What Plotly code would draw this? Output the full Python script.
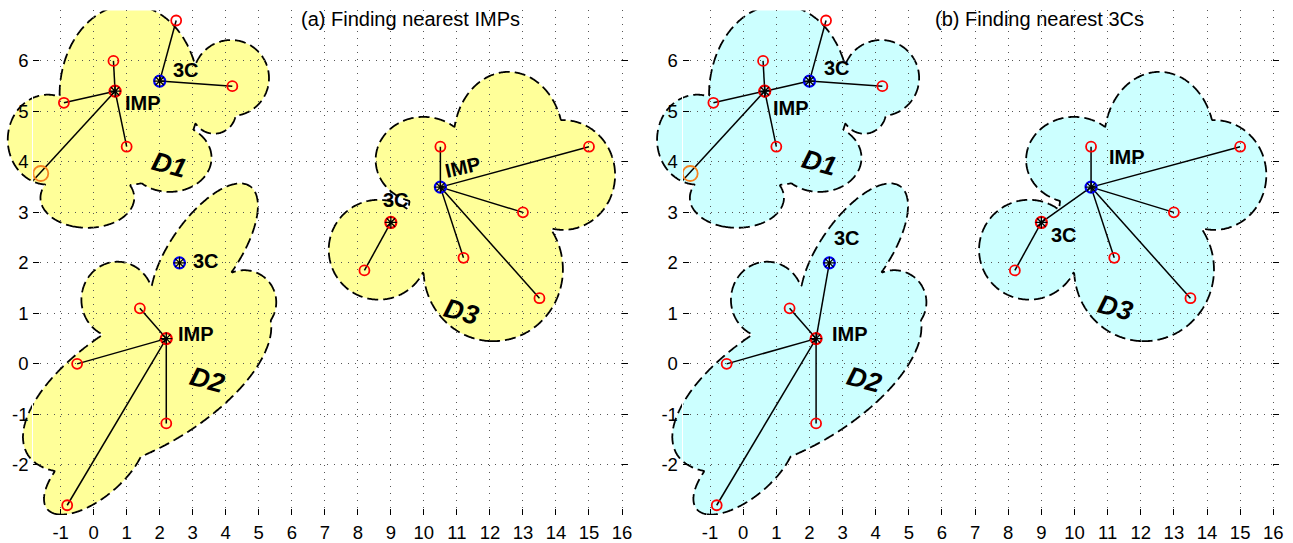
import numpy as np
import plotly.graph_objects as go

W, H = 1293, 543

# ---------------- data ----------------
X_TICKS = list(range(-1, 17))
X_TICK_LABELS = [str(v) for v in X_TICKS]
Y_TICKS = list(range(-2, 7))
Y_TICK_LABELS = [str(v) for v in Y_TICKS]

PANEL_TITLES = ["(a) Finding nearest IMPs", "(b) Finding nearest 3Cs"]
TITLE_X = [9.6, 8.93]
TITLE_Y = [6.83, 6.83]

# hub nodes: 0 IMP(D1), 1 3C(D1), 2 IMP(D2), 3 3C(D2), 4 IMP(D3), 5 3C(D3)
HUB_X = [0.65, 2.0, 2.2, 2.6, 10.5, 9.0]
HUB_Y = [5.4, 5.6, 0.5, 2.0, 3.5, 2.8]
HUB_KIND = ["red", "blue", "red", "blue", "blue", "red"]

# ordinary points and the hub each one is joined to
PT_X = [2.5, 4.2, 0.6, -0.9, 1.0, 1.4, -0.5, 2.2, -0.8, 10.5, 15.0, 13.0, 11.2, 13.5, 8.2]
PT_Y = [6.8, 5.5, 6.0, 5.17, 4.3, 1.1, 0.0, -1.18, -2.8, 4.3, 4.3, 3.0, 2.1, 1.3, 1.85]
PT_HUB = [1, 1, 0, 0, 0, 2, 2, 2, 2, 4, 4, 4, 4, 4, 5]

# point lying outside the axes (only its link is visible) and the highlighted point
OUT_X = [-2.1]
OUT_Y = [3.44]
OUT_HUB = [0]
ORANGE_X = [-1.6]
ORANGE_Y = [3.77]

# extra hub-to-hub links in panel (b)
HUB_LINKS_B = [(0, 1), (2, 3), (4, 5)]

# cloud regions: union of lobes (cx, cy, semi-axis a, semi-axis b [x-units], angle deg)
D1_LOBES = [(-1.39, 4.44, 1.21, 1.36, 0), (-0.19, 3.29, 1.42, 0.91, 0),
            (2.30, 4.08, 1.27, 1.03, 0), (1.08, 5.33, 2.11, 2.72, 0),
            (4.16, 5.66, 1.15, 1.15, 0), (3.65, 4.99, 0.66, 0.66, 0),
            (-0.3, 4.1, 0.9, 0.7, 0)]
D2_LOBES = [(3.35, 2.22, 2.42, 1.03, 55), (4.56, 1.22, 0.97, 0.97, 0),
            (1.62, -0.36, 4.23, 1.93, 31), (0.72, 1.27, 1.09, 1.15, 0),
            (0.03, -2.09, 1.87, 0.85, 40)]
D3_LOBES = [(12.56, 4.44, 1.66, 2.05, 0), (14.22, 3.74, 1.57, 1.66, 0),
            (12.10, 1.87, 2.11, 2.17, 0), (8.63, 2.26, 1.51, 1.51, 0),
            (9.99, 4.04, 1.45, 1.30, 0), (11.35, 3.05, 1.81, 1.51, 0)]
BLOBS = [D1_LOBES, D2_LOBES, D3_LOBES]

LABEL_TEXT = ["3C", "IMP", "D1", "3C", "IMP", "D2", "IMP", "3C", "D3"]
LABEL_A_X = [2.79, 1.5, 2.29, 3.4, 3.09, 3.45, 11.2, 9.15, 11.15]
LABEL_A_Y = [5.82, 5.17, 3.94, 2.04, 0.6, -0.31, 3.9, 3.25, 1.02]
LABEL_B_X = [2.84, 1.45, 2.31, 3.14, 3.21, 3.67, 11.57, 9.68, 11.25]
LABEL_B_Y = [5.85, 5.07, 3.98, 2.49, 0.6, -0.31, 4.1, 2.56, 1.1]

# ---------------- layout geometry ----------------
XR = [-1.83, 16.18]
YR = [-3.0, 7.0]
MAIN_DOM = [(33.3 / W, 629.9 / W), (684.7 / W, 1283.2 / W)]
EXT_LEFT = [0.0, 640.0 / W]
YDOM = ((H - 516.3) / H, (H - 10.4) / H)
ASPECT = 50.59 / 33.125
FILLS = ["#FFFF99", "#CCFFFF"]
FONT = "Arial, Liberation Sans, sans-serif"


def field(lobes, xs, ys):
    X, Y = np.meshgrid(xs, ys)
    f = np.full(X.shape, 9.0)
    for cx, cy, a, b, ang in lobes:
        dx = X - cx
        dy = (Y - cy) * ASPECT
        t = np.radians(ang)
        u = dx * np.cos(t) + dy * np.sin(t)
        v = -dx * np.sin(t) + dy * np.cos(t)
        f = np.minimum(f, np.sqrt((u / a) ** 2 + (v / b) ** 2))
    return np.round(np.clip(f, 0, 2.0), 3)


fig = go.Figure()

for p in range(2):
    bx, by = ("x", "y") if p == 0 else ("x2", "y2")
    mx, my = ("x3", "y3") if p == 0 else ("x4", "y4")
    # clouds
    for lobes in BLOBS:
        ext = max(max(l[2], l[3]) for l in lobes)
        x0 = min(l[0] for l in lobes) - ext - 0.3
        x1 = max(l[0] for l in lobes) + ext + 0.3
        y0 = min(l[1] for l in lobes) - ext / ASPECT - 0.3
        y1 = max(l[1] for l in lobes) + ext / ASPECT + 0.3
        xs = np.arange(x0, x1, 0.03)
        ys = np.arange(y0, y1, 0.02)
        z = field(lobes, xs, ys)
        fig.add_trace(go.Contour(
            x=np.round(xs, 3), y=np.round(ys, 3), z=z, xaxis=bx, yaxis=by,
            contours=dict(type="constraint", operation=">", value=1),
            fillcolor=FILLS[p],
            line=dict(color="black", width=1.8, dash="11px,5px", smoothing=1),
            showscale=False, hoverinfo="skip", showlegend=False))

    # links
    lx, ly = [], []
    for x, y, h in zip(PT_X + OUT_X, PT_Y + OUT_Y, PT_HUB + OUT_HUB):
        lx += [HUB_X[h], x, None]
        ly += [HUB_Y[h], y, None]
    if p == 1:
        for a, b in HUB_LINKS_B:
            lx += [HUB_X[a], HUB_X[b], None]
            ly += [HUB_Y[a], HUB_Y[b], None]
    fig.add_trace(go.Scatter(x=lx, y=ly, mode="lines", xaxis=mx, yaxis=my,
                             line=dict(color="black", width=1.5),
                             hoverinfo="skip", showlegend=False))
    # points
    fig.add_trace(go.Scatter(x=PT_X, y=PT_Y, mode="markers", xaxis=mx, yaxis=my,
                             marker=dict(symbol="circle-open", size=10, color="red",
                                         line=dict(width=1.8, color="red")),
                             hoverinfo="skip", showlegend=False))
    fig.add_trace(go.Scatter(x=ORANGE_X, y=ORANGE_Y, mode="markers", xaxis=mx, yaxis=my,
                             marker=dict(symbol="circle-open", size=15, color="#F5821F",
                                         line=dict(width=1.8, color="#F5821F")),
                             hoverinfo="skip", showlegend=False))
    for kind, col in (("red", "red"), ("blue", "#0000FF")):
        hx = [x for x, k in zip(HUB_X, HUB_KIND) if k == kind]
        hy = [y for y, k in zip(HUB_Y, HUB_KIND) if k == kind]
        fig.add_trace(go.Scatter(x=hx, y=hy, mode="markers", xaxis=mx, yaxis=my,
                                 marker=dict(symbol="circle-open", size=11, color=col,
                                             line=dict(width=2.2, color=col)),
                                 hoverinfo="skip", showlegend=False))
        fig.add_trace(go.Scatter(x=hx, y=hy, mode="markers", xaxis=mx, yaxis=my,
                                 marker=dict(symbol="asterisk-open", size=10, color="black",
                                             line=dict(width=1.3, color="black")),
                                 hoverinfo="skip", showlegend=False))

    # labels
    LX = LABEL_A_X if p == 0 else LABEL_B_X
    LY = LABEL_A_Y if p == 0 else LABEL_B_Y
    for i, (t, x, y) in enumerate(zip(LABEL_TEXT, LX, LY)):
        is_d = t.startswith("D")
        ang = 15 if is_d else (-13 if (p == 0 and i == 6) else 0)
        txt = "<b><i>%s</i></b>" % t if is_d else "<b>%s</b>" % t
        fig.add_annotation(x=x, y=y, xref=mx, yref=my, text=txt, showarrow=False,
                           textangle=ang, xanchor="center", yanchor="middle",
                           font=dict(family=FONT, size=27 if is_d else 20, color="black"))
    fig.add_annotation(x=TITLE_X[p], y=TITLE_Y[p], xref=mx, yref=my, text=PANEL_TITLES[p],
                       showarrow=False, xanchor="center", yanchor="middle",
                       font=dict(family=FONT, size=20, color="black"))

axis_common = dict(showline=True, linecolor="white", linewidth=1, ticks="inside",
                   ticklen=6, tickwidth=1, tickcolor="black", zeroline=False,
                   showgrid=True, gridcolor="#555555", gridwidth=1, griddash="1px,6px",
                   tickfont=dict(family=FONT, size=18.5, color="black"))

layout = dict(width=W, height=H, margin=dict(l=0, r=0, t=0, b=0),
              paper_bgcolor="white", plot_bgcolor="rgba(0,0,0,0)", showlegend=False)

for p in range(2):
    d0, d1 = MAIN_DOM[p]
    sx = (d1 - d0) * W / (XR[1] - XR[0])
    ext_r0 = XR[0] - (d0 - EXT_LEFT[p]) * W / sx
    bxk, byk = ("xaxis", "yaxis") if p == 0 else ("xaxis2", "yaxis2")
    mxk, myk = ("xaxis3", "yaxis3") if p == 0 else ("xaxis4", "yaxis4")
    byid = "y" if p == 0 else "y2"
    bxid = "x" if p == 0 else "x2"
    layout[bxk] = dict(domain=[EXT_LEFT[p], d1], range=[ext_r0, XR[1]], visible=False,
                       anchor=byid, fixedrange=True)
    layout[byk] = dict(domain=list(YDOM), range=YR, visible=False, anchor=bxid,
                       fixedrange=True)
    layout[mxk] = dict(domain=[d0, d1], range=XR, anchor="y3" if p == 0 else "y4",
                       tickvals=X_TICKS, ticktext=X_TICK_LABELS, mirror=False,
                       **axis_common)
    layout[myk] = dict(domain=list(YDOM), range=YR, anchor="x3" if p == 0 else "x4",
                       tickvals=Y_TICKS, ticktext=Y_TICK_LABELS, mirror="ticks",
                       **axis_common)

fig.update_layout(**layout)
fig.write_html("out.html")
